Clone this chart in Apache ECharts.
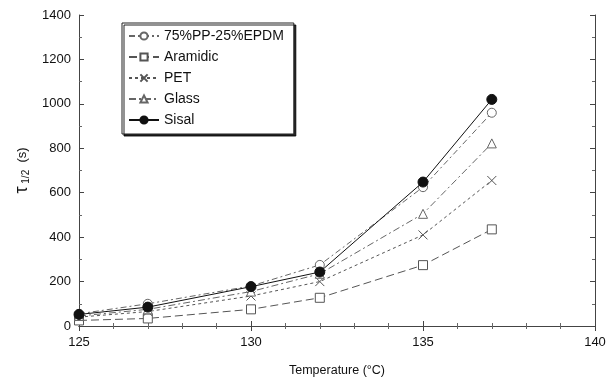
<!DOCTYPE html>
<html>
<head>
<meta charset="utf-8">
<script src="https://cdn.jsdelivr.net/npm/echarts@6/dist/echarts.min.js"></script>
<style>
  html, body { margin: 0; padding: 0; background: #fff; }
  #chart { width: 609px; height: 379px; }
</style>
</head>
<body>
<div id="chart"></div>
<script>
// Half-time of crystallization versus isothermal crystallization temperature
const temperatures = [125, 127, 130, 132, 135, 137];
const seriesNames = ['75%PP-25%EPDM', 'Aramidic', 'PET', 'Glass', 'Sisal'];
const blend = [55, 100, 180, 275, 625, 960];
const aramidic = [25, 34, 75, 127, 274, 435];
const pet = [40, 65, 135, 200, 410, 655];
const glass = [45, 75, 155, 235, 505, 822];
const sisal = [52, 85, 177, 243, 648, 1020];
const xTicks = [125, 130, 135, 140];
const yTicks = [0, 200, 400, 600, 800, 1000, 1200, 1400];

const FONT = 'Liberation Sans, Arial, sans-serif';
const LINE = '#555';
const crossPath = 'path://M0,0L10,10M10,0L0,10';

function pairs(values) {
  return temperatures.map((t, i) => [t, values[i]]);
}

function makeSeries(name, values, symbol, size, dash, filled, color) {
  return {
    name: name,
    type: 'line',
    data: pairs(values),
    symbol: symbol,
    symbolSize: size,
    showAllSymbol: true,
    xAxisIndex: 0,
    yAxisIndex: 0,
    lineStyle: { color: color, width: 1, type: dash },
    itemStyle: filled
      ? { color: color, borderColor: color, borderWidth: 1 }
      : { color: '#fff', borderColor: color, borderWidth: 1 },
    emphasis: { disabled: true },
    z: filled ? 5 : 3
  };
}

const series = [
  makeSeries(seriesNames[0], blend, 'circle', 9, [6, 3, 2, 3], false, '#666'),
  makeSeries(seriesNames[1], aramidic, 'rect', 9, [8, 4], false, LINE),
  makeSeries(seriesNames[2], pet, crossPath, 9, [3, 3], false, LINE),
  makeSeries(seriesNames[3], glass, 'triangle', 9, [7, 3, 2, 3], false, '#666'),
  makeSeries(seriesNames[4], sisal, 'circle', 10, 'solid', true, '#111')
];
// cross marker is drawn by stroke only
series[2].itemStyle = { color: 'none', borderColor: LINE, borderWidth: 1 };

const axisLine = { show: true, lineStyle: { color: '#444', width: 1 } };

const option = {
  animation: false,
  backgroundColor: '#fff',
  textStyle: { fontFamily: FONT },
  grid: { left: 79, right: 14, top: 15, bottom: 53, containLabel: false, outerBoundsMode: 'none' },
  legend: {
    orient: 'vertical',
    left: 122,
    top: 23,
    data: seriesNames,
    itemWidth: 30,
    itemHeight: 9,
    itemGap: 7,
    padding: [6, 10, 7, 6],
    backgroundColor: '#fff',
    borderColor: '#222',
    borderWidth: 1,
    shadowColor: 'rgba(0,0,0,0.85)',
    shadowBlur: 0,
    shadowOffsetX: 2,
    shadowOffsetY: 2,
    textStyle: { fontFamily: FONT, fontSize: 14, color: '#111' }
  },
  xAxis: [
    {
      type: 'value',
      min: 125,
      max: 140,
      interval: 5,
      position: 'bottom',
      name: 'Temperature (°C)',
      nameLocation: 'middle',
      nameGap: 38,
      nameTextStyle: { fontFamily: FONT, fontSize: 12.5, color: '#111' },
      axisLine: axisLine,
      axisTick: { show: true, inside: true, length: 5, lineStyle: { color: '#444' } },
      minorTick: { show: true, splitNumber: 5, length: 3, lineStyle: { color: '#666' } },
      axisLabel: {
        fontFamily: FONT, fontSize: 13, color: '#111', margin: 10,
        formatter: v => (xTicks.indexOf(v) >= 0 ? String(v) : '')
      },
      splitLine: { show: false }
    },
    {
      type: 'value',
      min: 125,
      max: 140,
      interval: 5,
      position: 'top',
      axisLine: axisLine,
      axisTick: { show: true, inside: true, length: 5, lineStyle: { color: '#444' } },
      minorTick: { show: true, splitNumber: 5, length: 3, lineStyle: { color: '#666' } },
      axisLabel: { show: false },
      splitLine: { show: false }
    }
  ],
  yAxis: [
    {
      type: 'value',
      min: 0,
      max: 1400,
      interval: 200,
      position: 'left',
      name: '{t|τ}{s| 1/2}{u|  (s)}',
      nameLocation: 'middle',
      nameGap: 44,
      nameRotate: 90,
      nameTextStyle: {
        color: '#111',
        rich: {
          t: { fontFamily: FONT, fontSize: 18, color: '#111' },
          s: { fontFamily: FONT, fontSize: 10, color: '#111', padding: [8, 0, 0, 0] },
          u: { fontFamily: FONT, fontSize: 13, color: '#111' }
        }
      },
      axisLine: axisLine,
      axisTick: { show: true, inside: true, length: 5, lineStyle: { color: '#444' } },
      minorTick: { show: true, splitNumber: 2, length: 3, lineStyle: { color: '#666' } },
      axisLabel: {
        fontFamily: FONT, fontSize: 13, color: '#111', margin: 8,
        formatter: v => (yTicks.indexOf(v) >= 0 ? String(v) : '')
      },
      splitLine: { show: false }
    },
    {
      type: 'value',
      min: 0,
      max: 1400,
      interval: 200,
      position: 'right',
      axisLine: axisLine,
      axisTick: { show: true, inside: true, length: 5, lineStyle: { color: '#444' } },
      minorTick: { show: true, splitNumber: 2, length: 3, lineStyle: { color: '#666' } },
      axisLabel: { show: false },
      splitLine: { show: false }
    }
  ],
  series: series
};

const chart = echarts.init(document.getElementById('chart'), null, { renderer: 'canvas' });
chart.setOption(option);
</script>
</body>
</html>
